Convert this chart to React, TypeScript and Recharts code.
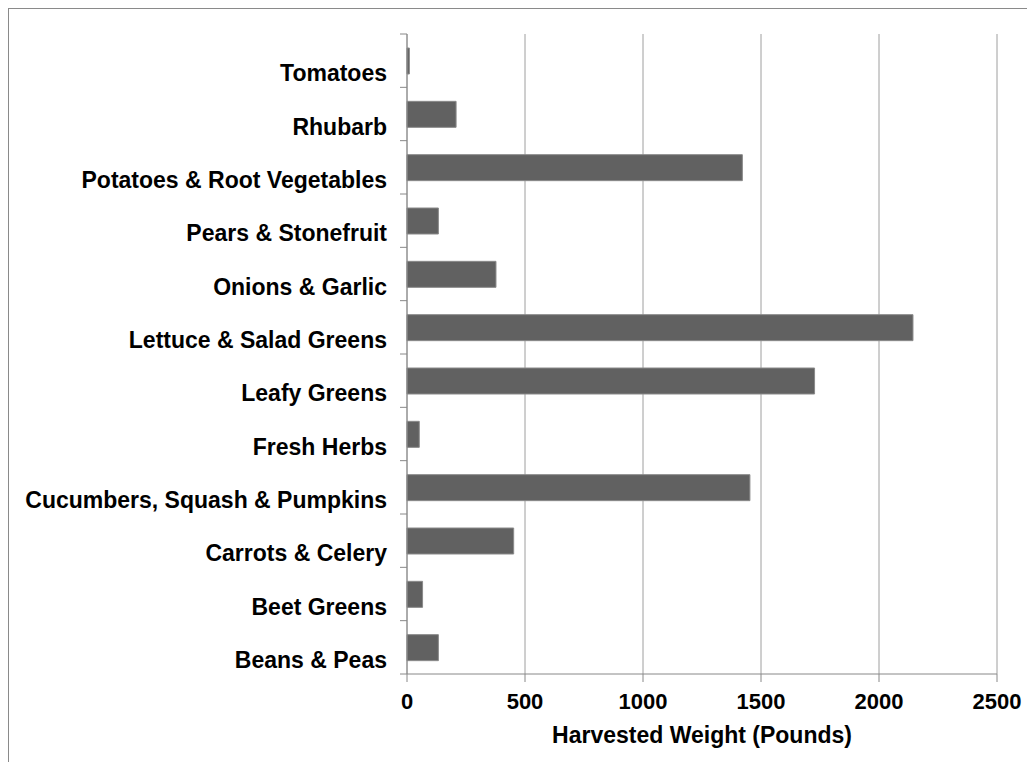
import { BarChart, Bar, XAxis, YAxis, CartesianGrid, Label } from "recharts";

const categories = [
  "Tomatoes",
  "Rhubarb",
  "Potatoes & Root Vegetables",
  "Pears & Stonefruit",
  "Onions & Garlic",
  "Lettuce & Salad Greens",
  "Leafy Greens",
  "Fresh Herbs",
  "Cucumbers, Squash & Pumpkins",
  "Carrots & Celery",
  "Beet Greens",
  "Beans & Peas",
];
const weights = [10, 208, 1421, 133, 377, 2144, 1727, 52, 1453, 452, 66, 133];
const xTicks = [0, 500, 1000, 1500, 2000, 2500];
const axisTitle = "Harvested Weight (Pounds)";

const data = categories.map((name, i) => ({ name, weight: weights[i] }));

const FONT = "'Liberation Sans', Arial, sans-serif";
const AXIS = "#888888";

// Excel-style category tick: label a little below centre, tick marks on band edges
function CategoryTick(props: any) {
  const { x, y, payload, index, visibleTicksCount } = props;
  const half = payload?.offset ?? 26.6;
  const isLast = index === visibleTicksCount - 1;
  return (
    <g>
      <line x1={x - 7} x2={x} y1={y - half} y2={y - half} stroke={AXIS} />
      {isLast && <line x1={x - 7} x2={x} y1={y + half} y2={y + half} stroke={AXIS} />}
      <text x={x - 20} y={y + 20.5} textAnchor="end" fontFamily={FONT} fontWeight="bold" fontSize={23} fill="#000">
        {payload.value}
      </text>
    </g>
  );
}

function TitleLabel(props: any) {
  const vb = props.viewBox || {};
  return (
    <text x={vb.x + vb.width / 2} y={vb.y + 69} textAnchor="middle" fontFamily={FONT} fontWeight="bold" fontSize={23} fill="#000">
      {axisTitle}
    </text>
  );
}

export default function App() {
  return (
    <div style={{ borderTop: "1px solid #8a8a8a", borderLeft: "1px solid #8a8a8a", width: 1018, height: 753 }}>
      <BarChart
        width={1018}
        height={753}
        data={data}
        layout="vertical"
        margin={{ top: 25, right: 30, bottom: 0, left: 0 }}
      >
        <CartesianGrid horizontal={false} stroke="#9e9e9e" />
        <XAxis
          type="number"
          domain={[0, 2500]}
          ticks={xTicks}
          interval={0}
          height={88}
          stroke={AXIS}
          tickSize={8}
          tickMargin={11}
          tick={{ fontFamily: FONT, fontWeight: "bold", fontSize: 22, fill: "#000" }}
        >
          <Label content={TitleLabel} />
        </XAxis>
        <YAxis
          type="category"
          dataKey="name"
          width={398}
          stroke={AXIS}
          tickSize={0}
          tickMargin={0}
          tickLine={false}
          interval={0}
          tick={<CategoryTick />}
        />
        <Bar dataKey="weight" fill="#616161" stroke="#8a8a8a" strokeWidth={1} barSize={26} isAnimationActive={false} />
      </BarChart>
    </div>
  );
}
